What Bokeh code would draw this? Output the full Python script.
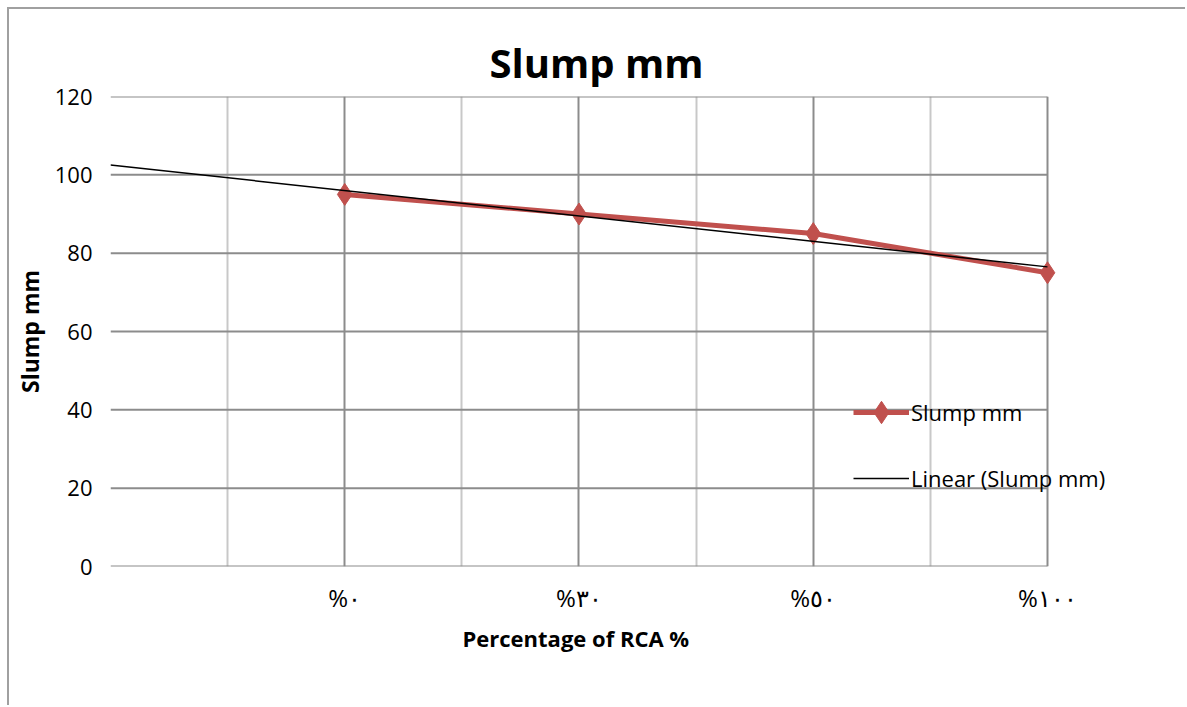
import numpy as np
from bokeh.plotting import figure
from bokeh.models import (ColumnDataSource, FixedTicker, Legend, LegendItem, Range1d, Grid, Title)
from bokeh.embed import file_html
from bokeh.resources import INLINE

# ---- data ----
categories = ["%٠", "%٣٠", "%٥٠", "%١٠٠"]
cat_pos = [1, 2, 3, 4]
slump = [95, 90, 85, 75]
y_ticks = [0, 20, 40, 60, 80, 100, 120]

# linear trendline (least squares over category index), drawn from 0 to 4
coef = np.polyfit(cat_pos, slump, 1)
trend_x = [0, 4]
trend_y = [float(np.polyval(coef, v)) for v in trend_x]

FONT = "Open Sans"
GRID_DARK = "#8c8c8c"
GRID_LIGHT = "#c8c8c8"

ml, mt = 9, 9
X_END = 4.5977  # frame extends past the plot area so the legend is not clipped
p = figure(width=1187 - ml, height=707 - mt, output_backend="svg", toolbar_location=None,
           x_range=Range1d(0, X_END), y_range=Range1d(0, 120),
           min_border_left=110 - ml, min_border_top=96 - mt,
           min_border_right=0, min_border_bottom=141,
           background_fill_color="white", border_fill_color="white")
p.styles = {"margin-left": "7px", "margin-top": "7px",
            "border-left": "2px solid #a0a0a0", "border-top": "2px solid #a0a0a0"}
p.outline_line_color = None

# title
p.title.text = "Slump mm"
p.title.text_font = FONT
p.title.text_font_size = "40px"
p.title.text_font_style = "bold"
p.title.text_color = "black"
p.title.align = "left"
p.title.offset = 379
p.title.standoff = 14

# axes
p.xaxis.ticker = FixedTicker(ticks=cat_pos)
p.xaxis.major_label_overrides = {c: l for c, l in zip(cat_pos, categories)}
p.yaxis.ticker = FixedTicker(ticks=y_ticks)
for ax in (p.xaxis, p.yaxis):
    ax.axis_line_color = None
    ax.major_tick_line_color = None
    ax.minor_tick_line_color = None
    ax.major_label_text_font = FONT
    ax.major_label_text_font_size = "22px"
    ax.major_label_text_color = "black"
    ax.axis_label_text_font = FONT
    ax.axis_label_text_font_style = "bold"
    ax.axis_label_text_font_size = "23px"
    ax.axis_label_text_color = "black"
p.xaxis.major_label_text_font_size = "24px"
p.xaxis.major_label_standoff = 8
p.yaxis.major_label_standoff = 12
p.yaxis.axis_label = "Slump mm"
p.yaxis.axis_label_standoff = 6

xlab = Title(text="Percentage of RCA %", align="left", offset=352, text_font=FONT,
             text_font_size="22px", text_font_style="bold", text_color="black", standoff=8)
p.add_layout(xlab, "below")

# grids
p.xgrid.visible = False
p.ygrid.visible = False
p.segment(x0=[0] * len(y_ticks), x1=[4] * len(y_ticks), y0=y_ticks, y1=y_ticks,
          line_color=GRID_DARK, line_width=2)
p.add_layout(Grid(dimension=0, ticker=FixedTicker(ticks=[0.5, 1.5, 2.5, 3.5]),
                  grid_line_color=GRID_LIGHT, grid_line_width=2))
p.add_layout(Grid(dimension=0, ticker=FixedTicker(ticks=[0, 1, 2, 3, 4]),
                  grid_line_color=GRID_DARK, grid_line_width=2))

src = ColumnDataSource(dict(x=cat_pos, y=slump))
tsrc = ColumnDataSource(dict(x=trend_x, y=trend_y))

red = "#C0504D"
l1 = p.line("x", "y", source=src, line_color=red, line_width=5)
m1 = p.scatter("x", "y", source=src, marker="diamond", size=22, fill_color=red, line_color=red)
l2 = p.line("x", "y", source=tsrc, line_color="black", line_width=1.5)

legend = Legend(items=[LegendItem(label="Slump mm", renderers=[l1, m1]),
                       LegendItem(label="Linear (Slump mm)", renderers=[l2])],
                location=(743, 58), border_line_color=None, background_fill_alpha=0,
                label_text_font=FONT, label_text_font_size="22px", label_text_color="black",
                glyph_width=56, glyph_height=60, label_height=60, spacing=6,
                label_standoff=2, padding=0, margin=0)
p.add_layout(legend, "center")

open("out.html", "w").write(file_html(p, INLINE))
